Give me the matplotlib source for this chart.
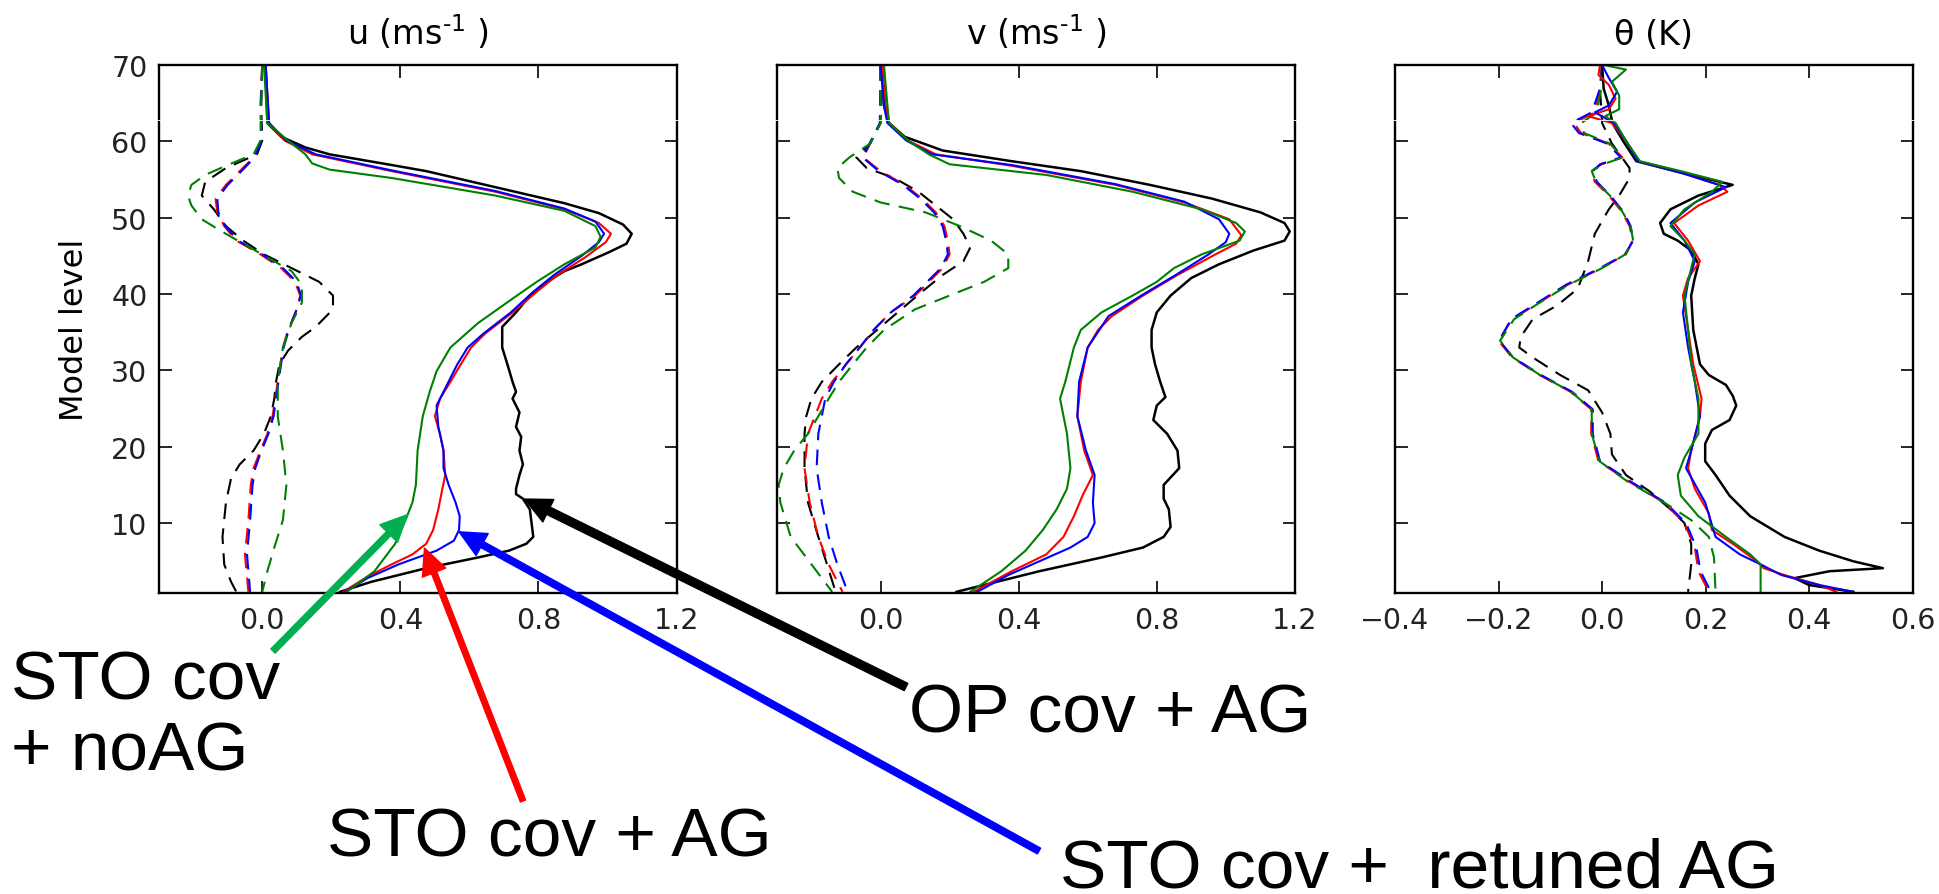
import numpy as np
import matplotlib
matplotlib.use('Agg')
import matplotlib.pyplot as plt
from matplotlib.lines import Line2D

# Profiles as (model level, value) pairs, model top down to level 1.
# Solid = spread, dashed = bias.  Order per panel: OP+AG, STO+AG, STO+retuned AG, STO+noAG

# ---- u (m/s) ----
u_op_std = [(70, 0.01), (62.4, 0.015), (60.6, 0.055), (59.2, 0.125), (58.3, 0.195), (56.9, 0.375),
            (56.1, 0.475), (54.0, 0.675), (51.9, 0.875), (50.6, 0.975), (49.1, 1.045), (47.9, 1.07),
            (46.6, 1.055), (45.5, 1.005), (43.9, 0.925), (43.0, 0.875), (41.6, 0.825), (39.8, 0.775),
            (37.6, 0.735), (35.7, 0.695), (33.0, 0.695), (30.8, 0.71), (28.5, 0.725), (27.2, 0.735),
            (26.3, 0.725), (24.5, 0.745), (22.6, 0.735), (21.3, 0.75), (19.5, 0.745), (17.7, 0.755),
            (16.3, 0.745), (14.5, 0.735), (13.8, 0.735), (13.2, 0.755), (11.8, 0.775), (10.0, 0.78),
            (8.2, 0.785), (7.3, 0.765), (6.4, 0.715), (5.5, 0.625), (4.1, 0.475), (2.3, 0.315), (1.0, 0.225)]
u_sto_std = [(70, 0.01), (62.4, 0.02), (60.1, 0.065), (58.3, 0.145), (56.1, 0.375), (53.4, 0.675),
             (51.1, 0.875), (49.3, 0.975), (47.9, 1.01), (46.8, 0.995), (44.8, 0.935), (42.5, 0.855),
             (40.3, 0.795), (37.6, 0.725), (34.8, 0.645), (33.0, 0.605), (30.8, 0.575), (28.5, 0.545),
             (26.3, 0.515), (24.0, 0.50), (21.7, 0.515), (19.5, 0.525), (16.3, 0.53), (14.1, 0.52),
             (11.8, 0.51), (9.1, 0.495), (7.3, 0.475), (5.9, 0.435), (4.6, 0.375), (3.0, 0.305), (1.0, 0.235)]
u_ret_std = [(70, 0.01), (62.4, 0.02), (60.1, 0.07), (58.3, 0.155), (56.2, 0.375), (53.5, 0.675),
             (51.2, 0.875), (49.5, 0.965), (47.9, 0.99), (46.8, 0.975), (45.0, 0.925), (42.5, 0.845),
             (40.3, 0.785), (37.6, 0.72), (34.8, 0.64), (33.0, 0.595), (30.8, 0.565), (28.1, 0.535),
             (25.4, 0.505), (22.6, 0.51), (19.5, 0.525), (17.2, 0.525), (15.0, 0.54), (12.7, 0.56),
             (10.9, 0.572), (9.1, 0.57), (7.7, 0.555), (6.4, 0.505), (4.6, 0.395), (2.8, 0.305), (1.0, 0.24)]
u_noag_std = [(70, 0.005), (62.4, 0.015), (60.1, 0.075), (58.3, 0.125), (57.1, 0.145), (56.3, 0.195),
              (55.2, 0.375), (52.9, 0.675), (50.9, 0.875), (48.9, 0.965), (47.5, 0.98), (46.1, 0.965),
              (43.9, 0.875), (41.6, 0.795), (39.4, 0.725), (36.2, 0.625), (33.0, 0.545), (29.9, 0.505),
              (27.2, 0.485), (24.0, 0.465), (19.5, 0.45), (15.0, 0.445), (12.7, 0.435), (10.4, 0.415),
              (7.3, 0.385), (3.7, 0.325), (1.0, 0.245)]
u_op_bias = [(70, 0.0), (64.7, -0.003), (60.1, 0.0), (58.3, -0.015), (56.5, -0.105), (54.7, -0.165),
             (52.9, -0.175), (51.1, -0.14), (48.9, -0.105), (47.0, -0.055), (45.2, 0.005), (43.4, 0.085),
             (41.6, 0.165), (39.8, 0.205), (38.0, 0.205), (35.7, 0.155), (34.4, 0.115), (32.6, 0.075),
             (30.8, 0.05), (28.5, 0.04), (26.3, 0.035), (24.0, 0.025), (21.7, 0.005), (19.5, -0.025),
             (17.7, -0.065), (15.9, -0.09), (12.7, -0.105), (8.2, -0.115), (4.6, -0.11), (2.3, -0.09),
             (1.0, -0.075)]
u_sto_bias = [(70, 0.0), (64.7, -0.005), (60.1, -0.003), (57.9, -0.025), (56.1, -0.065), (54.3, -0.105),
              (52.5, -0.135), (50.7, -0.13), (48.9, -0.11), (47.0, -0.075), (45.2, -0.005), (43.4, 0.055),
              (41.6, 0.095), (39.8, 0.11), (38.0, 0.10), (35.3, 0.075), (33.0, 0.06), (28.5, 0.045),
              (24.0, 0.03), (21.7, 0.015), (19.5, -0.005), (17.2, -0.025), (15.0, -0.033), (10.4, -0.04),
              (5.9, -0.05), (1.0, -0.04)]
u_ret_bias = [(70, 0.0), (64.7, -0.004), (60.1, -0.002), (57.9, -0.022), (56.1, -0.06), (54.3, -0.1),
              (52.5, -0.13), (50.7, -0.127), (48.9, -0.107), (47.0, -0.07), (45.2, 0.0), (43.4, 0.06),
              (41.6, 0.1), (39.8, 0.112), (38.0, 0.1), (35.3, 0.077), (33.0, 0.062), (28.5, 0.047),
              (24.0, 0.033), (21.7, 0.018), (19.5, -0.002), (17.2, -0.02), (15.0, -0.028), (10.4, -0.035),
              (5.9, -0.044), (1.0, -0.035)]
u_noag_bias = [(70, 0.0), (64.7, -0.003), (60.1, -0.005), (58.3, -0.025), (57.0, -0.095), (55.6, -0.165),
               (54.3, -0.205), (52.9, -0.215), (51.6, -0.205), (49.8, -0.175), (48.4, -0.125), (46.6, -0.055),
               (44.8, 0.015), (43.0, 0.085), (41.2, 0.115), (38.9, 0.115), (36.2, 0.085), (33.0, 0.06),
               (28.5, 0.045), (24.0, 0.045), (19.5, 0.06), (15.0, 0.07), (10.4, 0.06), (6.8, 0.035),
               (3.7, 0.015), (1.0, 0.0)]

# ---- v (m/s) ----
v_op_std = [(70, 0.005), (64.7, 0.01), (62.4, 0.025), (60.6, 0.07), (58.8, 0.18), (57.4, 0.38),
            (56.1, 0.58), (54.3, 0.78), (52.5, 0.96), (50.7, 1.10), (49.3, 1.17), (48.2, 1.185),
            (47.0, 1.17), (45.7, 1.08), (43.9, 0.98), (42.1, 0.90), (39.8, 0.84), (37.6, 0.80),
            (35.3, 0.785), (33.0, 0.785), (30.8, 0.795), (28.5, 0.81), (26.5, 0.825), (25.4, 0.80),
            (23.5, 0.79), (21.7, 0.83), (19.5, 0.86), (17.2, 0.865), (15.0, 0.82), (13.2, 0.82),
            (11.8, 0.835), (9.5, 0.84), (8.2, 0.82), (6.8, 0.76), (5.5, 0.64), (3.7, 0.46), (1.0, 0.22)]
v_sto_std = [(70, 0.005), (64.7, 0.015), (62.4, 0.025), (60.1, 0.08), (58.3, 0.16), (56.8, 0.38),
             (54.3, 0.68), (52.0, 0.88), (49.8, 1.01), (47.7, 1.045), (46.6, 1.03), (45.2, 0.97),
             (42.5, 0.86), (39.8, 0.76), (37.1, 0.67), (35.3, 0.63), (33.0, 0.60), (28.5, 0.58),
             (24.0, 0.57), (19.5, 0.59), (16.3, 0.615), (13.6, 0.585), (10.9, 0.56), (8.2, 0.53),
             (5.9, 0.48), (3.7, 0.38), (1.0, 0.27)]
v_ret_std = [(70, 0.0), (64.7, 0.01), (62.4, 0.02), (60.1, 0.075), (58.3, 0.15), (56.9, 0.38),
             (54.4, 0.68), (52.1, 0.88), (49.8, 0.98), (47.9, 1.01), (46.8, 1.00), (45.2, 0.95),
             (42.5, 0.855), (39.8, 0.755), (37.1, 0.66), (33.0, 0.60), (28.5, 0.575), (24.0, 0.57),
             (19.5, 0.595), (16.3, 0.62), (12.7, 0.615), (10.0, 0.62), (8.2, 0.60), (6.8, 0.55),
             (5.0, 0.46), (3.2, 0.37), (1.0, 0.28)]
v_noag_std = [(70, 0.01), (64.7, 0.02), (62.4, 0.025), (60.1, 0.08), (58.3, 0.14), (57.0, 0.20),
              (55.6, 0.48), (53.4, 0.73), (51.1, 0.93), (49.3, 1.03), (48.2, 1.055), (47.0, 1.04),
              (45.2, 0.93), (43.4, 0.85), (41.6, 0.80), (39.8, 0.73), (37.6, 0.64), (35.3, 0.58),
              (33.0, 0.56), (28.5, 0.535), (26.3, 0.52), (21.7, 0.54), (17.2, 0.55), (14.5, 0.54),
              (11.8, 0.51), (9.1, 0.47), (6.4, 0.42), (3.7, 0.35), (1.0, 0.26)]
v_op_bias = [(70, 0.0), (64.7, 0.002), (62.4, 0.0), (59.7, -0.03), (57.9, -0.07), (56.5, -0.04),
             (55.2, 0.04), (53.4, 0.11), (51.6, 0.16), (49.8, 0.21), (47.9, 0.24), (46.1, 0.26),
             (44.3, 0.24), (42.5, 0.18), (40.3, 0.12), (38.0, 0.06), (35.3, -0.01), (33.0, -0.07),
             (30.8, -0.12), (28.5, -0.17), (26.3, -0.20), (24.0, -0.215), (21.7, -0.22), (17.2, -0.22),
             (12.7, -0.21), (8.2, -0.18), (4.6, -0.155), (1.0, -0.13)]
v_sto_bias = [(70, 0.0), (62.4, 0.0), (59.7, -0.03), (57.9, -0.05), (56.1, 0.0), (54.3, 0.07),
              (52.5, 0.12), (50.7, 0.16), (48.9, 0.185), (47.0, 0.195), (45.2, 0.20), (43.4, 0.18),
              (41.6, 0.14), (39.8, 0.10), (37.6, 0.03), (35.3, -0.02), (33.0, -0.06), (30.8, -0.10),
              (28.5, -0.14), (26.3, -0.17), (21.7, -0.21), (17.2, -0.22), (12.7, -0.205), (8.2, -0.18),
              (4.6, -0.15), (1.0, -0.11)]
v_ret_bias = [(70, 0.0), (62.4, -0.002), (59.7, -0.032), (57.9, -0.052), (56.1, -0.005), (54.3, 0.065),
              (52.5, 0.115), (50.7, 0.155), (48.9, 0.18), (47.0, 0.19), (45.2, 0.195), (43.4, 0.175),
              (41.6, 0.135), (39.8, 0.095), (37.6, 0.03), (35.3, -0.02), (33.0, -0.06), (30.8, -0.10),
              (28.5, -0.135), (26.3, -0.16), (24.0, -0.17), (21.7, -0.18), (17.2, -0.185), (12.7, -0.17),
              (8.2, -0.15), (4.6, -0.125), (1.0, -0.095)]
v_noag_bias = [(70, 0.0), (62.4, 0.0), (59.7, -0.03), (57.9, -0.09), (56.5, -0.125), (55.2, -0.12),
               (53.4, -0.08), (52.0, 0.0), (50.7, 0.13), (48.9, 0.23), (47.0, 0.32), (45.2, 0.37),
               (43.4, 0.37), (41.6, 0.30), (39.8, 0.20), (38.0, 0.10), (35.3, 0.01), (33.0, -0.04),
               (30.8, -0.08), (28.5, -0.12), (26.3, -0.15), (21.7, -0.21), (19.5, -0.25), (17.2, -0.28),
               (15.0, -0.295), (12.7, -0.29), (8.2, -0.26), (4.6, -0.20), (1.0, -0.14)]

# ---- theta (K) ----
t_op_std = [(70, 0.0), (66.9, 0.003), (64.7, 0.013), (62.4, 0.02), (60.1, 0.04), (57.4, 0.066),
            (55.9, 0.152), (54.3, 0.252), (52.9, 0.186), (51.1, 0.132), (49.3, 0.112), (47.9, 0.119),
            (47.0, 0.146), (45.7, 0.172), (43.9, 0.186), (42.1, 0.179), (39.8, 0.172), (35.3, 0.176),
            (30.8, 0.189), (29.4, 0.206), (28.1, 0.239), (26.7, 0.252), (25.4, 0.259), (23.5, 0.246),
            (22.2, 0.212), (20.4, 0.199), (18.1, 0.199), (16.3, 0.219), (13.6, 0.246), (10.9, 0.286),
            (8.2, 0.352), (6.4, 0.419), (5.0, 0.485), (4.1, 0.542), (3.7, 0.439), (2.8, 0.372),
            (1.9, 0.399), (1.0, 0.485)]
t_sto_std = [(70, -0.004), (68.7, -0.007), (67.4, 0.013), (65.6, 0.026), (64.2, 0.013), (63.3, -0.027),
             (62.4, 0.019), (60.1, 0.046), (57.4, 0.069), (55.9, 0.152), (54.3, 0.226), (53.4, 0.242),
             (51.6, 0.186), (49.3, 0.139), (47.0, 0.166), (44.3, 0.189), (42.1, 0.166), (39.8, 0.156),
             (35.3, 0.166), (30.8, 0.176), (26.3, 0.192), (24.0, 0.189), (19.5, 0.172), (17.2, 0.166),
             (14.5, 0.179), (11.3, 0.206), (9.1, 0.212), (7.3, 0.252), (5.0, 0.299), (4.1, 0.312),
             (3.2, 0.352), (1.9, 0.419), (1.0, 0.452)]
t_ret_std = [(70, 0.0), (68.3, 0.013), (66.5, 0.029), (64.7, 0.013), (63.8, -0.014), (62.4, 0.023),
             (60.1, 0.046), (57.4, 0.069), (55.9, 0.152), (54.0, 0.239), (52.0, 0.179), (49.3, 0.132),
             (47.0, 0.159), (44.3, 0.179), (41.6, 0.166), (37.6, 0.156), (33.0, 0.166), (28.5, 0.179),
             (24.0, 0.189), (19.5, 0.172), (17.2, 0.162), (12.7, 0.199), (8.2, 0.219), (5.9, 0.266),
             (4.6, 0.306), (3.2, 0.346), (1.9, 0.419), (1.0, 0.485)]
t_noag_std = [(70, 0.003), (69.4, 0.046), (67.8, 0.019), (66.0, 0.033), (64.2, 0.033), (63.3, 0.006),
              (62.4, 0.026), (60.1, 0.046), (57.4, 0.073), (56.1, 0.152), (54.7, 0.232), (53.4, 0.212),
              (51.1, 0.159), (48.9, 0.132), (47.0, 0.159), (45.2, 0.179), (43.4, 0.172), (39.8, 0.159),
              (35.3, 0.166), (30.8, 0.172), (26.3, 0.186), (21.7, 0.186), (18.6, 0.159), (16.3, 0.146),
              (13.6, 0.152), (10.9, 0.186), (8.2, 0.239), (5.9, 0.286), (4.6, 0.306), (1.0, 0.306)]
t_op_bias = [(70, 0.0), (66.9, -0.004), (62.4, 0.0), (59.7, 0.019), (56.5, 0.053), (55.2, 0.053),
             (52.9, 0.033), (51.1, 0.013), (47.9, -0.014), (44.3, -0.027), (40.7, -0.047), (38.5, -0.087),
             (36.7, -0.134), (34.4, -0.157), (33.0, -0.160), (31.7, -0.134), (29.4, -0.081), (27.4, -0.027),
             (24.5, 0.0), (21.7, 0.016), (19.0, 0.019), (16.3, 0.046), (14.1, 0.093), (11.8, 0.132),
             (10.0, 0.159), (7.3, 0.172), (4.6, 0.172), (1.0, 0.166)]
t_sto_bias = [(70, 0.0), (66.9, -0.004), (63.8, -0.014), (62.4, -0.054), (61.1, -0.041), (59.7, 0.013),
              (57.9, 0.039), (57.0, -0.001), (56.1, -0.021), (54.7, -0.014), (52.9, 0.013), (50.7, 0.039),
              (48.9, 0.053), (47.0, 0.059), (45.2, 0.046), (43.4, -0.001), (41.2, -0.067), (38.9, -0.121),
              (36.7, -0.174), (33.9, -0.200), (31.7, -0.174), (29.4, -0.121), (27.2, -0.061), (24.9, -0.021),
              (21.7, -0.021), (18.1, -0.007), (15.4, 0.053), (12.7, 0.119), (10.0, 0.159), (6.8, 0.179),
              (3.7, 0.186), (1.0, 0.206)]
t_ret_bias = [(70, 0.0), (66.9, -0.004), (63.8, -0.02), (62.4, -0.06), (61.1, -0.045), (59.7, 0.01),
              (57.9, 0.036), (57.0, -0.004), (56.1, -0.018), (54.7, -0.01), (52.9, 0.016), (50.7, 0.042),
              (48.9, 0.055), (47.0, 0.06), (45.2, 0.044), (43.4, -0.004), (41.2, -0.07), (38.9, -0.124),
              (36.7, -0.176), (33.9, -0.198), (31.7, -0.172), (29.4, -0.118), (27.2, -0.058), (24.9, -0.018),
              (21.7, -0.018), (18.1, -0.004), (15.4, 0.056), (12.7, 0.122), (10.0, 0.162), (6.8, 0.182),
              (3.7, 0.19), (1.0, 0.21)]
t_noag_bias = [(70, 0.0), (66.9, -0.002), (63.8, -0.01), (62.4, -0.04), (61.1, -0.035), (59.7, 0.015),
               (57.9, 0.04), (57.0, 0.002), (56.1, -0.02), (54.7, -0.012), (52.9, 0.015), (50.7, 0.04),
               (48.9, 0.055), (47.0, 0.06), (45.2, 0.045), (43.4, 0.0), (41.2, -0.065), (38.9, -0.12),
               (36.7, -0.17), (33.9, -0.197), (31.7, -0.172), (29.4, -0.12), (27.2, -0.06), (24.9, -0.02),
               (21.7, -0.02), (18.1, -0.005), (15.4, 0.05), (12.7, 0.12), (10.4, 0.172), (8.2, 0.206),
               (5.5, 0.216), (1.0, 0.219)]

titles = ['u (ms$^{\\text{-}1}$ )', 'v (ms$^{\\text{-}1}$ )', '\u03b8 (K)']
xlims = [(-0.3, 1.2), (-0.3, 1.2), (-0.4, 0.6)]
xticks = [[0.0, 0.4, 0.8, 1.2], [0.0, 0.4, 0.8, 1.2], [-0.4, -0.2, 0.0, 0.2, 0.4, 0.6]]
yticks = [10, 20, 30, 40, 50, 60, 70]
std_sets = [[u_op_std, u_sto_std, u_ret_std, u_noag_std],
            [v_op_std, v_sto_std, v_ret_std, v_noag_std],
            [t_op_std, t_sto_std, t_ret_std, t_noag_std]]
bias_sets = [[u_op_bias, u_sto_bias, u_ret_bias, u_noag_bias],
             [v_op_bias, v_sto_bias, v_ret_bias, v_noag_bias],
             [t_op_bias, t_sto_bias, t_ret_bias, t_noag_bias]]
colors = ['k', 'r', 'b', 'g']

W, H = 1939, 895
fig = plt.figure(figsize=(W / 100, H / 100), dpi=100)
lefts = [158.6, 776.9, 1394.9]
axes = []
for i in range(3):
    ax = fig.add_axes([lefts[i] / W, 1 - 593.6 / H, 518 / W, 527.6 / H])
    for prof, c in zip(bias_sets[i], colors):
        p = np.array(prof)
        ax.plot(p[:, 1], p[:, 0], color=c, lw=1.5, ls=(0, (7.5, 4.5)))
    for prof, c in zip(std_sets[i], colors):
        p = np.array(prof)
        ax.plot(p[:, 1], p[:, 0], color=c, lw=1.5 if c != 'k' else 1.8)
    ax.set_xlim(*xlims[i])
    ax.set_ylim(0.9, 70)
    ax.set_xticks(xticks[i])
    ax.set_xticklabels(['%.1f' % t if t >= 0 else '\u2212%.1f' % -t for t in xticks[i]])
    ax.set_yticks(yticks)
    if i > 0:
        ax.set_yticklabels([])
    ax.tick_params(direction='in', top=True, right=True, length=9, width=1.2,
                   labelsize=20.5, labelcolor='#222222')
    ax.tick_params(axis='x', pad=10)
    ax.tick_params(axis='y', pad=8)
    for s in ax.spines.values():
        s.set_linewidth(1.7)
    ax.set_title(titles[i], fontsize=24, pad=15)
    axes.append(ax)

axes[0].set_ylabel('Model level', fontsize=23)
axes[0].yaxis.set_label_coords(-0.132, 0.5)

# labels for the four experiments
lab_font = dict(family='Liberation Sans', fontsize=50, va='baseline', ha='left')
fig.text(11 / W, 1 - 700 / H, 'STO cov', **lab_font)
fig.text(11 / W, 1 - 771 / H, '+ noAG', **lab_font)
fig.text(327 / W, 1 - 857 / H, 'STO cov + AG', **lab_font)
fig.text(909 / W, 1 - 733 / H, 'OP cov + AG', **lab_font)
fig.text(1060 / W, 1 - 888 / H, 'STO cov +  retuned AG', **lab_font)

# arrows from the labels to the u-spread curves (tail in figure pixels)
arrows = [((0.42, 11.1), (273, 652), '#00b050', 4.3),
          ((0.47, 6.74), (523, 802), '#ff0000', 4.0),
          ((0.57, 8.86), (1039, 852), '#0000ff', 4.7),
          ((0.76, 13.15), (906, 688), '#000000', 5.8)]
for tip, tail, c, w in arrows:
    axes[0].annotate('', xy=tip, xycoords='data', xytext=(tail[0], H - tail[1]),
                     textcoords='figure pixels',
                     arrowprops=dict(facecolor=c, edgecolor=c, width=w, headwidth=18,
                                     headlength=19, shrink=0),
                     annotation_clip=False)

# thin white scan line running across the whole figure
fig.add_artist(Line2D([0, 1], [1 - 120.5 / H] * 2, transform=fig.transFigure,
                      color='white', lw=0.6, zorder=10))

fig.savefig('out.png', dpi=100)
